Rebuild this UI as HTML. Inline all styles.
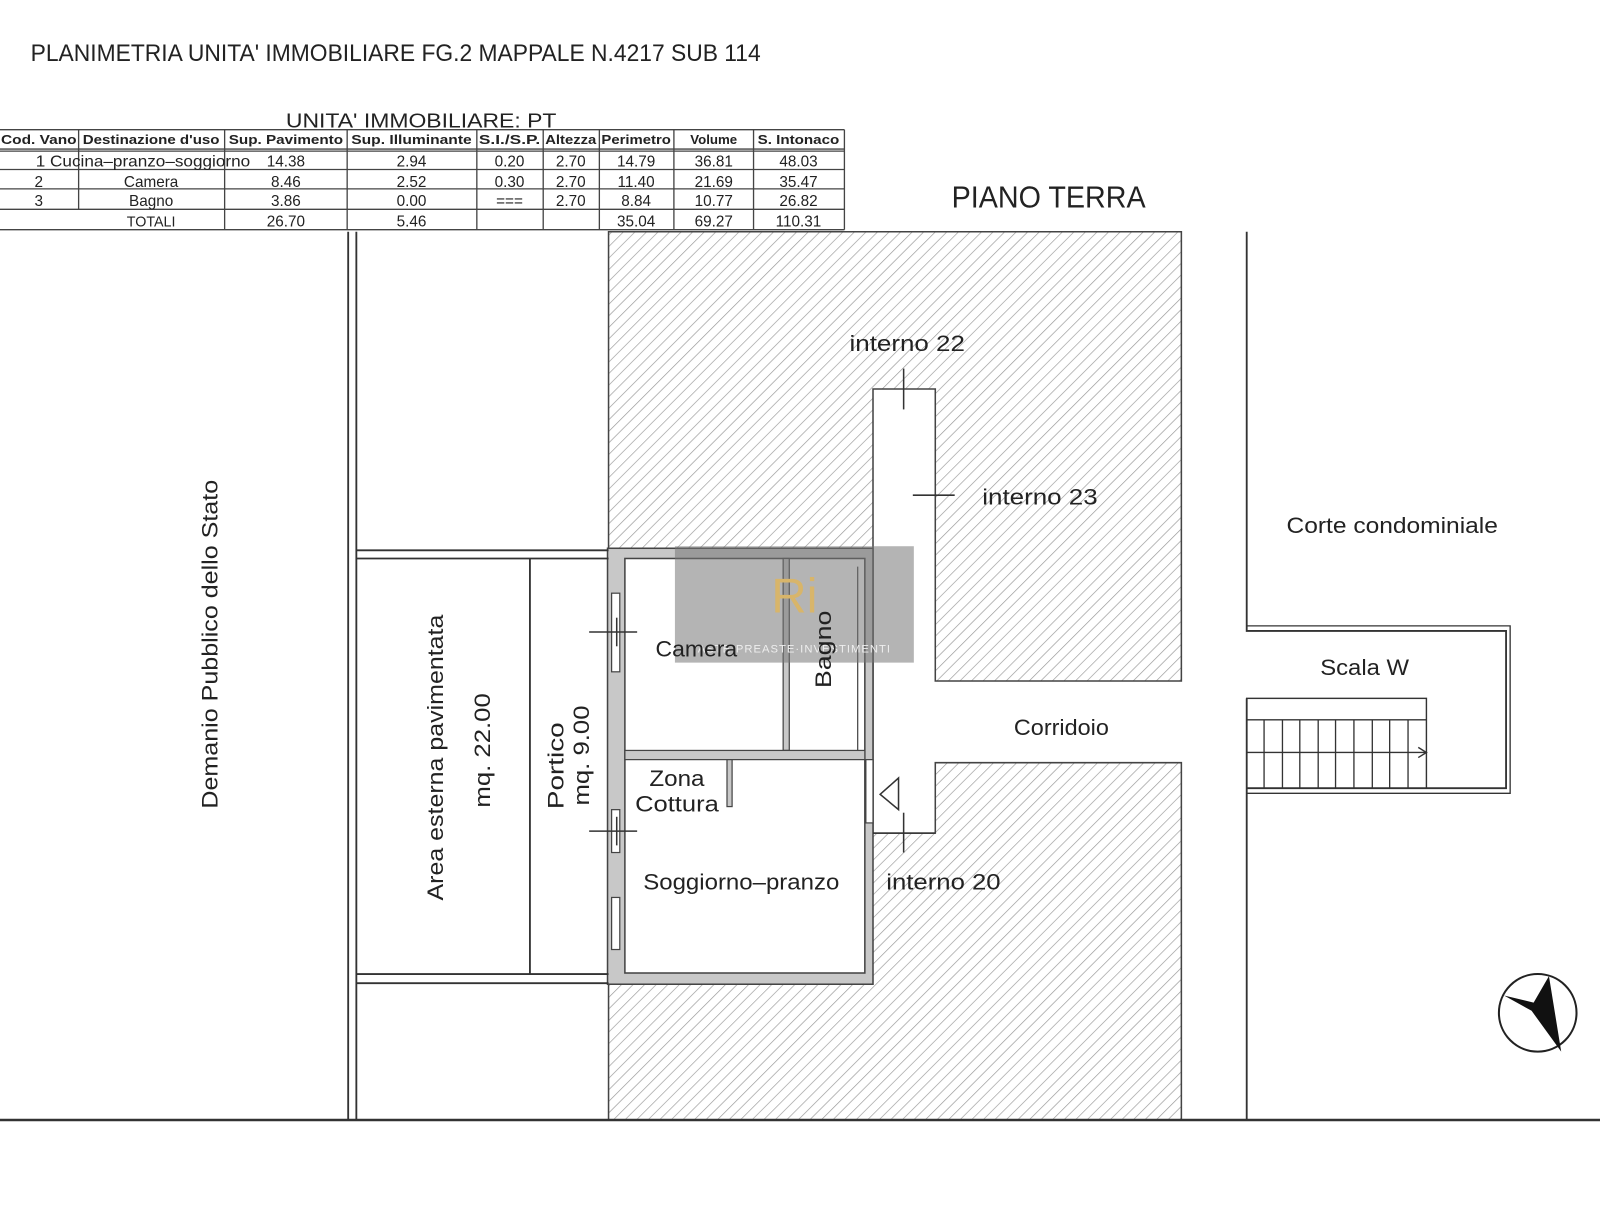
<!DOCTYPE html>
<html><head><meta charset="utf-8"><style>
html,body{margin:0;padding:0;background:#fff;}
svg{display:block;}
text{font-family:"Liberation Sans",sans-serif;fill:#222;}
</style></head><body>
<svg width="1600" height="1216" viewBox="0 0 1567 1191" preserveAspectRatio="none" xmlns="http://www.w3.org/2000/svg">
<defs>
<pattern id="h" patternUnits="userSpaceOnUse" width="8" height="8" patternTransform="rotate(45)">
<rect width="8" height="8" fill="#fff"/>
<line x1="0" y1="0" x2="0" y2="8" stroke="#999" stroke-width="1.3"/>
</pattern>
</defs>
<rect width="1567" height="1191" fill="#fff"/>

<!-- title -->
<text x="30" y="60" font-size="24" textLength="715" lengthAdjust="spacingAndGlyphs">PLANIMETRIA UNITA' IMMOBILIARE FG.2 MAPPALE N.4217 SUB 114</text>
<text x="280" y="125" font-size="20" textLength="265" lengthAdjust="spacingAndGlyphs">UNITA' IMMOBILIARE:  PT</text>

<!-- table -->
<g stroke="#444" stroke-width="1.3" fill="none">
<line x1="0" y1="127" x2="827" y2="127"/>
<line x1="0" y1="146" x2="827" y2="146"/>
<line x1="0" y1="148" x2="827" y2="148"/>
<line x1="0" y1="166" x2="827" y2="166"/>
<line x1="0" y1="185" x2="827" y2="185"/>
<line x1="0" y1="205" x2="827" y2="205"/>
<line x1="0" y1="225" x2="827" y2="225"/>
<line x1="77" y1="127" x2="77" y2="205"/>
<line x1="220" y1="127" x2="220" y2="225"/>
<line x1="340" y1="127" x2="340" y2="225"/>
<line x1="467" y1="127" x2="467" y2="225"/>
<line x1="532" y1="127" x2="532" y2="225"/>
<line x1="587" y1="127" x2="587" y2="225"/>
<line x1="660" y1="127" x2="660" y2="225"/>
<line x1="738" y1="127" x2="738" y2="225"/>
<line x1="827" y1="127" x2="827" y2="225"/>
</g>
<g font-size="13" font-weight="bold" text-anchor="middle">
<text x="38" y="141" textLength="74" lengthAdjust="spacingAndGlyphs">Cod. Vano</text>
<text x="148" y="141" textLength="134" lengthAdjust="spacingAndGlyphs">Destinazione d'uso</text>
<text x="280" y="141" textLength="112" lengthAdjust="spacingAndGlyphs">Sup. Pavimento</text>
<text x="403" y="141" textLength="118" lengthAdjust="spacingAndGlyphs">Sup. Illuminante</text>
<text x="499" y="141" textLength="60" lengthAdjust="spacingAndGlyphs">S.I./S.P.</text>
<text x="559" y="141" textLength="50" lengthAdjust="spacingAndGlyphs">Altezza</text>
<text x="623" y="141" textLength="68" lengthAdjust="spacingAndGlyphs">Perimetro</text>
<text x="699" y="141">Volume</text>
<text x="782" y="141" textLength="80" lengthAdjust="spacingAndGlyphs">S. Intonaco</text>
</g>
<g font-size="15" text-anchor="middle">
<text x="140" y="163" textLength="210" lengthAdjust="spacingAndGlyphs">1 Cucina–pranzo–soggiorno</text>
<text x="280" y="163">14.38</text><text x="403" y="163">2.94</text><text x="499" y="163">0.20</text><text x="559" y="163">2.70</text><text x="623" y="163">14.79</text><text x="699" y="163">36.81</text><text x="782" y="163">48.03</text>
<text x="38" y="183">2</text><text x="148" y="183">Camera</text>
<text x="280" y="183">8.46</text><text x="403" y="183">2.52</text><text x="499" y="183">0.30</text><text x="559" y="183">2.70</text><text x="623" y="183">11.40</text><text x="699" y="183">21.69</text><text x="782" y="183">35.47</text>
<text x="38" y="202">3</text><text x="148" y="202">Bagno</text>
<text x="280" y="202">3.86</text><text x="403" y="202">0.00</text><text x="499" y="202">===</text><text x="559" y="202">2.70</text><text x="623" y="202">8.84</text><text x="699" y="202">10.77</text><text x="782" y="202">26.82</text>
<text x="148" y="222" font-size="14">TOTALI</text>
<text x="280" y="222">26.70</text><text x="403" y="222">5.46</text><text x="623" y="222">35.04</text><text x="699" y="222">69.27</text><text x="782" y="222">110.31</text>
</g>

<!-- hatched building block -->
<path d="M596 227 H1157 V667 H916 V381 H855 V816 H916 V747 H1157 V1097 H596 Z" fill="url(#h)" stroke="#444" stroke-width="1.5"/>
<!-- unit -->
<rect x="595" y="537" width="260" height="427" fill="#c8c8c8" stroke="#444" stroke-width="1.5"/>
<rect x="612" y="547" width="235" height="406" fill="#fff" stroke="#444" stroke-width="1.5"/>
<!-- internal partitions -->
<rect x="767" y="547" width="6" height="188" fill="#c8c8c8" stroke="#444" stroke-width="1.2"/>
<rect x="612" y="735" width="235" height="9" fill="#c8c8c8" stroke="#444" stroke-width="1.2"/>
<rect x="712" y="744" width="5" height="46" fill="#c8c8c8" stroke="#444" stroke-width="1.2"/>
<!-- bagno right inner line -->
<line x1="840" y1="555" x2="840" y2="735" stroke="#444" stroke-width="1.2"/>
<!-- windows left wall -->
<g fill="#fff" stroke="#444" stroke-width="1.2">
<rect x="599" y="581" width="8" height="77"/>
<rect x="599" y="793" width="8" height="42"/>
<rect x="599" y="879" width="8" height="51"/>
<rect x="848" y="744" width="7" height="62"/>
</g>
<g stroke="#333" stroke-width="1.5">
<line x1="577" y1="619" x2="624" y2="619"/><line x1="604" y1="605" x2="604" y2="633"/>
<line x1="577" y1="814" x2="624" y2="814"/><line x1="604" y1="800" x2="604" y2="828"/>
<line x1="885" y1="361" x2="885" y2="401"/>
<line x1="894" y1="485" x2="935" y2="485"/>
<line x1="885" y1="796" x2="885" y2="835"/>
<line x1="855" y1="816" x2="916" y2="816"/>
</g>
<path d="M880 762 L862 778 L880 793 Z" fill="none" stroke="#333" stroke-width="1.5"/>

<!-- left area lines -->
<g stroke="#333" stroke-width="1.8" fill="none">
<line x1="341" y1="227" x2="341" y2="1097"/>
<line x1="349" y1="227" x2="349" y2="1097"/>
<line x1="349" y1="539" x2="596" y2="539"/>
<line x1="349" y1="547" x2="596" y2="547"/>
<line x1="349" y1="954" x2="596" y2="954"/>
<line x1="349" y1="963" x2="596" y2="963"/>
<line x1="519" y1="547" x2="519" y2="954"/>
<!-- bottom -->
<line x1="0" y1="1097" x2="1567" y2="1097" stroke-width="2.5"/>
<!-- right -->
<polyline points="1221,227 1221,618 1475,618 1475,772 1221,772"/>
<polyline points="1221,613 1479,613 1479,777 1221,777" stroke-width="1.3"/>
<line x1="1221" y1="684" x2="1221" y2="1097"/>
<rect x="1221" y="684" width="176" height="88" stroke-width="1.4"/>
<line x1="1221" y1="705" x2="1397" y2="705" stroke-width="1.4"/>
<line x1="1221" y1="737" x2="1397" y2="737" stroke-width="1.4"/>
<path d="M1389 732 L1397 737 L1389 742" stroke-width="1.4"/>
</g>
<g stroke="#333" stroke-width="1.3">
<line x1="1238" y1="705" x2="1238" y2="772"/><line x1="1256" y1="705" x2="1256" y2="772"/>
<line x1="1273" y1="705" x2="1273" y2="772"/><line x1="1291" y1="705" x2="1291" y2="772"/>
<line x1="1308" y1="705" x2="1308" y2="772"/><line x1="1326" y1="705" x2="1326" y2="772"/>
<line x1="1344" y1="705" x2="1344" y2="772"/><line x1="1361" y1="705" x2="1361" y2="772"/>
<line x1="1379" y1="705" x2="1379" y2="772"/>
</g>
<!-- compass -->
<circle cx="1506" cy="992" r="38" fill="none" stroke="#222" stroke-width="2"/>
<path d="M1517 956 L1529 1030 L1500 990 L1473 975 L1502 982 Z" fill="#111"/>

<!-- watermark -->
<rect x="661" y="535" width="234" height="114" fill="#777" opacity="0.55"/>
<text x="778" y="600" font-size="48" text-anchor="middle" fill="#d8b56a" style="fill:#d8b56a" font-family="Liberation Serif">Ri</text>
<text x="778" y="639" font-size="11" text-anchor="middle" style="fill:#eee" font-family="Liberation Serif" letter-spacing="1">ASTE·PREASTE·INVESTIMENTI</text>

<!-- labels -->
<g font-size="22">
<text x="932" y="203" font-size="30" textLength="190" lengthAdjust="spacingAndGlyphs">PIANO TERRA</text>
<text x="832" y="344" textLength="113" lengthAdjust="spacingAndGlyphs">interno 22</text>
<text x="962" y="494" textLength="113" lengthAdjust="spacingAndGlyphs">interno 23</text>
<text x="1260" y="522" textLength="207" lengthAdjust="spacingAndGlyphs">Corte condominiale</text>
<text x="1293" y="661" textLength="87" lengthAdjust="spacingAndGlyphs">Scala W</text>
<text x="993" y="720" textLength="93" lengthAdjust="spacingAndGlyphs">Corridoio</text>
<text x="868" y="871" textLength="112" lengthAdjust="spacingAndGlyphs">interno 20</text>
<text x="642" y="643" textLength="80" lengthAdjust="spacingAndGlyphs">Camera</text>
<text x="636" y="770" textLength="54" lengthAdjust="spacingAndGlyphs">Zona</text>
<text x="622" y="795" textLength="82" lengthAdjust="spacingAndGlyphs">Cottura</text>
<text x="630" y="871" textLength="192" lengthAdjust="spacingAndGlyphs">Soggiorno–pranzo</text>
<text transform="translate(814,636) rotate(-90)" text-anchor="middle" textLength="76" lengthAdjust="spacingAndGlyphs">Bagno</text>
<text transform="translate(213,631) rotate(-90)" text-anchor="middle" textLength="322" lengthAdjust="spacingAndGlyphs">Demanio Pubblico dello Stato</text>
<text transform="translate(434,742) rotate(-90)" text-anchor="middle" textLength="280" lengthAdjust="spacingAndGlyphs">Area esterna pavimentata</text>
<text transform="translate(480,735) rotate(-90)" text-anchor="middle" textLength="112" lengthAdjust="spacingAndGlyphs">mq. 22.00</text>
<text transform="translate(552,750) rotate(-90)" text-anchor="middle" textLength="85" lengthAdjust="spacingAndGlyphs">Portico</text>
<text transform="translate(577,740) rotate(-90)" text-anchor="middle" textLength="98" lengthAdjust="spacingAndGlyphs">mq. 9.00</text>
</g>
</svg>
</body></html>
